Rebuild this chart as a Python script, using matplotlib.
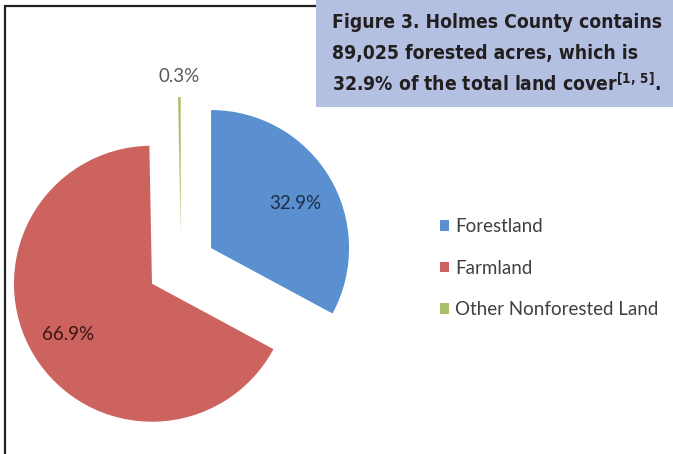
import matplotlib
matplotlib.use("Agg")
import matplotlib.pyplot as plt
from matplotlib.patches import Rectangle
from matplotlib import font_manager
import numpy as np

# Land cover shares, Holmes County (percent)
categories = ["Forestland", "Farmland", "Other Nonforested Land"]
shares = [32.9, 66.9, 0.3]
colors = ["#5a8fd0", "#cc635e", "#a9c06a"]
label_colors = ["#1f2d45", "#3a1512", "#595959"]
caption_lines = [
    "Figure 3. Holmes County contains",
    "89,025 forested acres, which is",
    r"32.9% of the total land cover$^{\mathregular{[1,\,5]}}$.",
]

W, H = 673, 454
fig = plt.figure(figsize=(W / 100, H / 100), dpi=100)
ax = fig.add_axes([0, 0, 1, 1])

R = 138
center = (181, H - 266)
# explode offsets are in data units (pixels here)
wedges, _ = ax.pie(
    shares, colors=colors, startangle=90, counterclock=False,
    radius=R, center=center, explode=[35, 34, 31],
    wedgeprops=dict(linewidth=0),
)

# percentage labels placed along each wedge's bisector
label_dist = [0.69, 0.71, 1.15]
label_shift = [-3, 0, 0]
for w, v, d, sh, c in zip(wedges, shares, label_dist, label_shift, label_colors):
    mid = np.deg2rad((w.theta1 + w.theta2) / 2 + sh)
    cx, cy = w.center
    x = cx + d * w.r * np.cos(mid)
    y = cy + d * w.r * np.sin(mid)
    ax.text(x, y, f"{v:.1f}%", ha="center", va="center", fontsize=13.5,
            color=c, family=["Lato", "DejaVu Sans"])

ax.set_xlim(0, W)
ax.set_ylim(0, H)
ax.set_aspect("equal")
ax.axis("off")

# chart frame (left and top edges visible)
ax.add_patch(Rectangle((5, -20), W + 40, H - 6 + 20, fill=False,
                       edgecolor="#222222", linewidth=1.6, zorder=1))

# legend
leg = ax.legend(wedges, categories, loc="upper left",
                bbox_to_anchor=(423 / W, 1 - 201 / H), frameon=False,
                handlelength=0.5, handleheight=0.5, handletextpad=0.3,
                labelspacing=1.32, prop=dict(family=["Lato", "DejaVu Sans"], size=13.5))
for t in leg.get_texts():
    t.set_color("#404040")

# caption box
ax.add_patch(Rectangle((316, H - 107), W - 316 + 5, 112, facecolor="#b4c0e2",
                       edgecolor="none", zorder=5))
cap_font = font_manager.FontProperties(family="DejaVu Sans", stretch="condensed",
                                       weight="bold", size=13.9)
for i, line in enumerate(caption_lines):
    ax.text(332, H - 22 - i * 31, line, ha="left", va="center",
            fontproperties=cap_font, color="#231f20", zorder=6)

fig.savefig("out.png", dpi=100)
